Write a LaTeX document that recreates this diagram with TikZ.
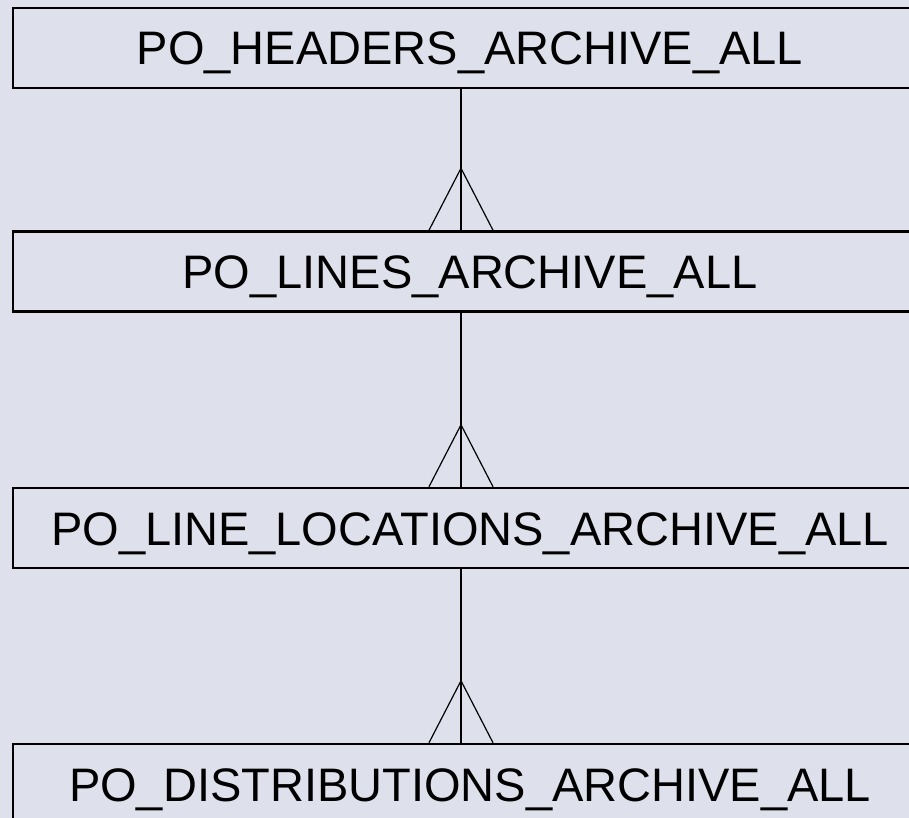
\documentclass[tikz,border=0pt]{standalone}
\usepackage{fontspec}
\setmainfont{Liberation Sans}
\definecolor{bgcol}{RGB}{222,225,236}
\tikzset{
  tablebox/.style={draw=black,line width=2.5pt,minimum width=914pt,minimum height=80pt,
    inner sep=0pt,text height=34pt,text depth=0pt,font=\fontsize{47}{50}\selectfont},
  relline/.style={draw=black,line width=1.2pt}
}
\begin{document}
\begin{tikzpicture}[x=1pt,y=1pt]
      \useasboundingbox (0,0) rectangle (909,-818);
      \fill[bgcol] (0,0) rectangle (909,-818);
      \clip (0,0) rectangle (909,-818);
      % tables
      \node[tablebox] (hdr) at (470,-48) {PO\_HEADERS\_ARCHIVE\_ALL};
      \node[tablebox] (lin) at (470,-271.5) {PO\_LINES\_ARCHIVE\_ALL};
      \node[tablebox] (loc) at (470,-528) {PO\_LINE\_LOCATIONS\_ARCHIVE\_ALL};
      \node[tablebox] (dst) at (470,-784) {PO\_DISTRIBUTIONS\_ARCHIVE\_ALL};
      % one-to-many links
      \foreach \a/\b in {hdr/lin,lin/loc,loc/dst} {
        \draw[relline] ([xshift=-9pt]\a.south) -- ([xshift=-9pt]\b.north);
        \draw[relline] ([xshift=-41pt]\b.north) -- ([xshift=-9pt,yshift=62pt]\b.north)
          -- ([xshift=23pt]\b.north);
      }
    \end{tikzpicture}
\end{document}
